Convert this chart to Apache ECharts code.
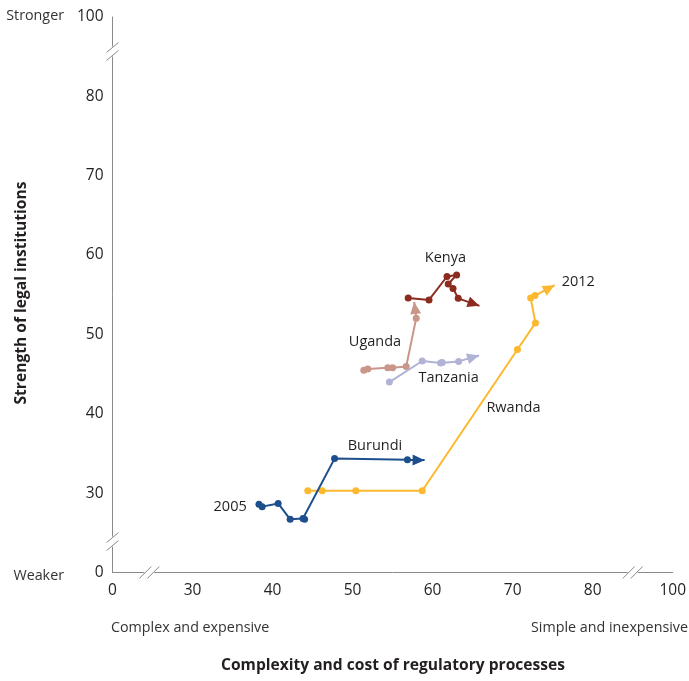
<!DOCTYPE html>
<html><head><meta charset="utf-8">
<script src="https://cdn.jsdelivr.net/npm/echarts@6/dist/echarts.min.js"></script>
<style>html,body{margin:0;padding:0;background:#fff}#c{width:689px;height:681px}</style>
</head><body><div id="c"></div>
<script>
// ---- data (display scale: 20 shown as "0", 90 shown as "100") ----
const tickValues = [20, 30, 40, 50, 60, 70, 80, 90];
const tickLabels = ['0', '30', '40', '50', '60', '70', '80', '100'];

const burundi  = [[38.3,28.6],[38.7,28.3],[40.7,28.7],[42.2,26.7],[43.8,26.8],[44.0,26.7],[47.75,34.35],[56.85,34.2],[59.0,34.15]];
const rwanda   = [[44.4,30.3],[46.2,30.3],[50.4,30.3],[58.7,30.3],[70.6,48.1],[72.85,51.45],[72.25,54.6],[72.8,54.9],[75.25,56.2]];
const kenya    = [[56.95,54.6],[59.55,54.35],[61.8,57.3],[63.0,57.5],[61.95,56.35],[62.55,55.8],[63.2,54.55],[65.85,53.6]];
const uganda   = [[51.4,45.5],[51.9,45.65],[54.4,45.8],[55.0,45.8],[56.7,45.95],[57.95,52.05],[57.7,54.1]];
const tanzania = [[54.6,44.0],[58.7,46.65],[61.0,46.4],[61.2,46.45],[63.25,46.6],[65.8,47.35]];

const annotationNames = ['Kenya','Uganda','Tanzania','Rwanda','Burundi','2005','2012'];
const annotationAt    = [[61.6,59.6],[52.8,49.05],[62.0,44.5],[70.1,40.75],[52.8,35.97],[34.7,28.3],[78.2,56.6]];

const yBreaks = [23.9, 85.66];
const xBreaks = [24.6, 85.0];

// ---- styling ----
const FONT = '"Open Sans", "Noto Sans", sans-serif';
const TXT = '#231f20';
const AXIS = '#8a8a8a';
const countries = [
  {name:'Rwanda',   color:'#fcb82e', pts: rwanda,   z:2},
  {name:'Uganda',   color:'#c9978a', pts: uganda,   z:3},
  {name:'Tanzania', color:'#b0b3d5', pts: tanzania, z:4},
  {name:'Burundi',  color:'#1d4f8c', pts: burundi,  z:5},
  {name:'Kenya',    color:'#8c2b20', pts: kenya,    z:6},
];
const arrowPath = 'path://M6,0L6.01,0L6,0.01ZM6,12L12,24L0,24Z';

const series = countries.map(c => {
  const n = c.pts.length;
  return {
    type:'line', name:c.name, data:c.pts.slice(0, n-1),
    symbol:'circle', symbolSize:7, showSymbol:true, z:c.z,
    lineStyle:{color:c.color, width:2}, itemStyle:{color:c.color},
    emphasis:{disabled:true}, animation:false,
    markLine:{
      z:c.z, silent:true, animation:false, symbol:['none', arrowPath], symbolSize:[11,24],
      label:{show:false}, emphasis:{disabled:true},
      lineStyle:{color:c.color, width:2, type:'solid'},
      data:[[{coord:c.pts[n-2]},{coord:c.pts[n-1]}]]
    }
  };
});

function labelFor(v){ const i = tickValues.indexOf(v); return i>=0 ? tickLabels[i] : ''; }

const option = {
  animation:false,
  backgroundColor:'#fff',
  grid:{left:112.5, top:17, width:560.5, height:555.5, containLabel:false},
  xAxis:{type:'value', min:20, max:90, interval:10,
    axisLine:{show:true, lineStyle:{color:AXIS, width:1}},
    axisTick:{show:false}, splitLine:{show:false},
    axisLabel:{formatter:labelFor, color:TXT, fontSize:15.5, fontFamily:FONT, margin:10}},
  yAxis:{type:'value', min:20, max:90, interval:10,
    axisLine:{show:true, lineStyle:{color:AXIS, width:1}},
    axisTick:{show:false}, splitLine:{show:false},
    axisLabel:{formatter:labelFor, color:TXT, fontSize:15.5, fontFamily:FONT, margin:9}},
  series
};

const chart = echarts.init(document.getElementById('c'));
chart.setOption(option);

const g = [];
function seg(x1,y1,x2,y2,color,w){ return {type:'line', silent:true, z:20, shape:{x1,y1,x2,y2}, style:{stroke:color, lineWidth:w}}; }
yBreaks.forEach(v => {
  const p = chart.convertToPixel({gridIndex:0}, [20, v]);
  g.push(seg(p[0], p[1]-5, p[0], p[1]+5, '#fff', 4));
  [-4, 4].forEach(d => g.push(seg(p[0]-6, p[1]+d+5, p[0]+6, p[1]+d-5, AXIS, 1)));
});
xBreaks.forEach(v => {
  const p = chart.convertToPixel({gridIndex:0}, [v, 20]);
  g.push(seg(p[0]-5, p[1], p[0]+5, p[1], '#fff', 4));
  [-4, 4].forEach(d => g.push(seg(p[0]+d-6, p[1]+6, p[0]+d+6, p[1]-6, AXIS, 1)));
});
function txt(x,y,text,opt){ return Object.assign({type:'text', x, y, silent:true, z:20,
  style:Object.assign({text, fill:TXT, fontSize:14.3, fontFamily:FONT, align:'left', verticalAlign:'middle'}, opt||{})}); }
annotationNames.forEach((nm, i) => {
  const p = chart.convertToPixel({gridIndex:0}, annotationAt[i]);
  g.push(txt(p[0], p[1], nm, {align:'center', fontSize:14.5, fill:TXT}));
});
g.push(txt(64, 16, 'Stronger', {align:'right', fill:'#333'}));
g.push(txt(64, 576, 'Weaker', {align:'right', fill:'#333'}));
g.push(txt(111, 628, 'Complex and expensive', {fill:'#333'}));
g.push(txt(688, 628, 'Simple and inexpensive', {align:'right', fill:'#333'}));
g.push(txt(393, 666, 'Complexity and cost of regulatory processes', {align:'center', fontWeight:'bold', fontSize:15.6}));
g.push(Object.assign(txt(0, 0, 'Strength of legal institutions', {align:'center', fontWeight:'bold', fontSize:15.6}), {x:22, y:293, rotation:Math.PI/2}));
chart.setOption({graphic:{elements:g}});
</script>
</body></html>
